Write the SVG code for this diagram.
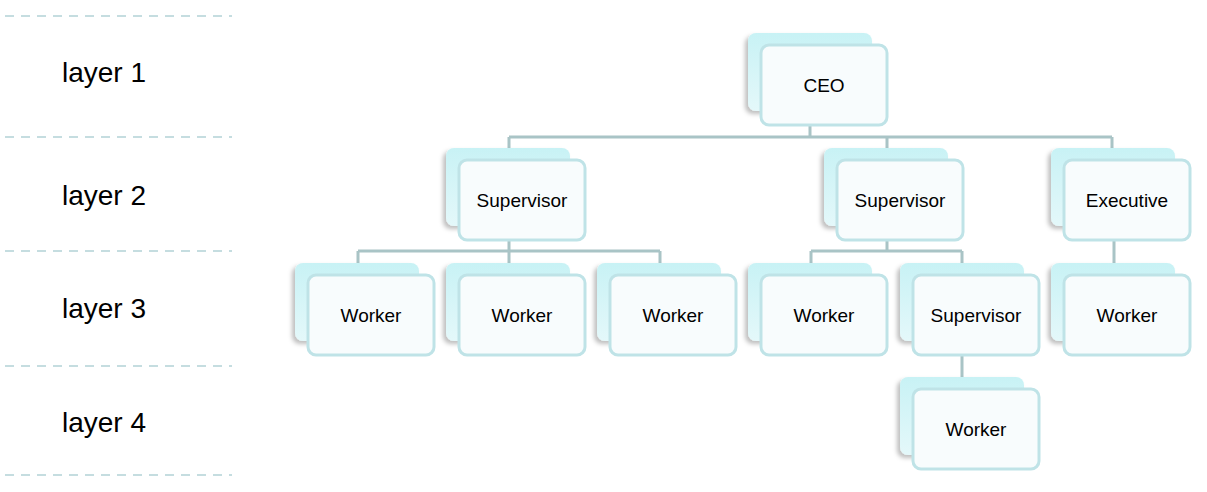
<svg xmlns="http://www.w3.org/2000/svg" width="1207" height="492" viewBox="0 0 1207 492">
<defs>
<linearGradient id="bg" x1="0" y1="0" x2="0" y2="1"><stop offset="0" stop-color="#c8f2f5"/><stop offset="1" stop-color="#e4f8fa"/></linearGradient>
<filter id="sh" x="-20%" y="-20%" width="140%" height="140%"><feDropShadow dx="-3" dy="3" stdDeviation="2" flood-color="#000" flood-opacity="0.25"/></filter>
<style>
.dash{stroke:#c5dde0;stroke-width:2;stroke-dasharray:9 7}
.lay{font-family:"Liberation Sans",Arial,sans-serif;font-size:28px;fill:#000}
.back{fill:url(#bg);filter:url(#sh)}
.front{fill:#f8fcfd;stroke:#bfe3e7;stroke-width:3}
.t{font-family:"Liberation Sans",Arial,sans-serif;font-size:19px;fill:#000;text-anchor:middle}
.c{stroke:#a9c4c6;stroke-width:3;fill:none}
</style>
<g id="n"><rect class="back" x="-76" y="-52" width="124" height="78" rx="8"/><rect class="front" x="-63" y="-40" width="126" height="80" rx="8"/></g>
</defs>
<g id="layers">
<line class="dash" x1="5" y1="16" x2="232" y2="16"/><line class="dash" x1="5" y1="137" x2="232" y2="137"/><line class="dash" x1="5" y1="251" x2="232" y2="251"/><line class="dash" x1="5" y1="366" x2="232" y2="366"/><line class="dash" x1="5" y1="475" x2="232" y2="475"/>
<text class="lay" x="62" y="82">layer 1</text><text class="lay" x="62" y="205">layer 2</text><text class="lay" x="62" y="318">layer 3</text><text class="lay" x="62" y="432">layer 4</text>
</g>
<g id="connectors">
<path class="c" d="M810 125V137M509 137H1112M509 137V160M887 137V160M1112 137V160"/>
<path class="c" d="M509 240V251M358 251H660M358 251V275M509 251V275M660 251V275"/>
<path class="c" d="M887 240V251M811 251H962M811 251V275M962 251V275"/>
<path class="c" d="M1114 240V275M962 355V389"/>
</g>
<g id="ceo"><use href="#n" x="824" y="85"/><text class="t" x="824" y="92">CEO</text></g>
<g id="sup1"><use href="#n" x="522" y="200"/><text class="t" x="522" y="207">Supervisor</text></g>
<g id="sup2"><use href="#n" x="900" y="200"/><text class="t" x="900" y="207">Supervisor</text></g>
<g id="exec"><use href="#n" x="1127" y="200"/><text class="t" x="1127" y="207">Executive</text></g>
<g id="w1"><use href="#n" x="371" y="315"/><text class="t" x="371" y="322">Worker</text></g>
<g id="w2"><use href="#n" x="522" y="315"/><text class="t" x="522" y="322">Worker</text></g>
<g id="w3"><use href="#n" x="673" y="315"/><text class="t" x="673" y="322">Worker</text></g>
<g id="w4"><use href="#n" x="824" y="315"/><text class="t" x="824" y="322">Worker</text></g>
<g id="sup3"><use href="#n" x="976" y="315"/><text class="t" x="976" y="322">Supervisor</text></g>
<g id="w5"><use href="#n" x="1127" y="315"/><text class="t" x="1127" y="322">Worker</text></g>
<g id="w6"><use href="#n" x="976" y="429"/><text class="t" x="976" y="436">Worker</text></g>
</svg>
